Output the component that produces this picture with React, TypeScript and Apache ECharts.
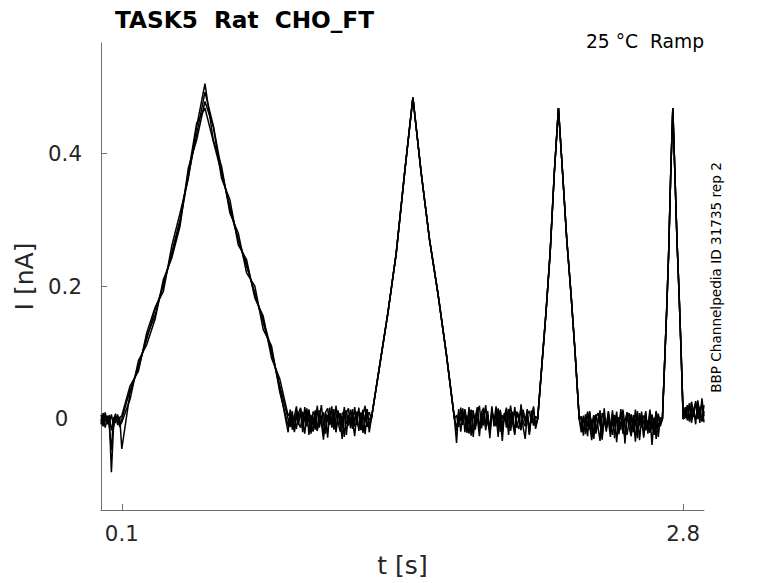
import React, { useEffect, useRef } from "react";
import * as echarts from "echarts";

// Axis ranges and ticks
const X_RANGE = [0, 2.9];
const Y_RANGE = [-0.137, 0.566];
const X_TICKS = [0.1, 2.8];
const Y_TICKS = [0, 0.2, 0.4];

// Baseline (holding) segments: start times [s], sample step [s], level offsets [pA]
const BASE_START = [0, 0.91, 1.71, 2.31, 2.81];
const BASE_DT = 0.01;
const BASE_OFFSET_PA = [-2, 0, 0, -4, 6];

// Baseline noise per trace [pA]
const BASE0_PA = [
  [8, -4, 10, -6, 2, -78, -12, 6, -3, 4],
  [-6, 11, -2, 7, -10, -45, 5, -4, 9, -8],
  [3, -9, 12, -3, 8, -15, 0, 10, -7, 5],
  [-2, 7, -11, 4, -5, 9, -8, 2, 6, -10],
];
const BASE1_PA = [
  [-5, 12, -18, 6, -9, 15, -3, -22, 8, 14, -11, 3, -16, 20, -7, 1, -25, 9, -4, 17, -13, 5, -19, 11, -2, -30, 7, 13, -8, 2, -15, 18, -6, -12, 10, -21, 4, 15, -9],
  [10, -16, 4, 19, -7, -13, 11, -2, 16, -24, 6, -9, 13, -18, 2, 21, -11, 7, -28, 12, -5, 15, -20, 3, 9, -14, 18, -6, -10, 14, -3, -26, 8, 12, -17, 5, 20, -12, 1],
  [-12, 7, -20, 14, -3, 9, -15, 18, -8, 2, -22, 11, 5, -17, 13, -6, -31, 10, 16, -9, 3, -14, 20, -4, -19, 8, 12, -24, 6, -2, 15, -11, -7, 17, -16, 9, -5, 13, -20],
  [14, -8, 2, -15, 9, 17, -20, 5, -11, 12, -4, -19, 8, 15, -13, 3, 10, -22, 6, -7, 19, -16, 1, 13, -10, 4, -27, 9, 16, -14, 7, -3, 11, -18, 2, 14, -23, 6, 10],
];
const BASE2_PA = [
  [-14, 9, -3, 16, -20, 5, -8, 12, -27, 3, 18, -10, -1, 14, -17, 7, -23, 11, -5, 19, -12, 2, -33, 8, -6, 15, -18, 4, 10, -9, -15, 22, -4, -11, 6, -24, 13, -2, -7],
  [6, -12, 17, -4, 10, -21, 3, 14, -9, -16, 8, 20, -14, 5, -7, 12, -29, 9, 1, -11, 16, -19, 6, -3, 13, -24, 10, -8, 18, -13, 2, -17, 11, -5, 15, -22, 7, -10, 4],
  [-36, 15, -19, 7, 2, -13, 18, -25, 10, -4, 13, -16, 6, -10, 21, -7, -18, 12, -2, 8, -27, 14, -9, 4, 17, -14, -5, 11, -21, 9, -1, 16, -12, -30, 7, 12, -6, 19, -15],
  [-18, 4, 11, -9, 15, -3, -22, 8, 13, -12, 1, -26, 10, 17, -8, 3, -15, 19, -11, 6, -4, 12, -20, 9, -13, 2, 20, -7, -24, 11, 5, -16, 14, -3, 8, -19, 1, 16, -11],
];
const BASE3_PA = [
  [-10, 6, -19, 12, -4, -28, 9, -13, 3, 17, -22, 5, -8, 14, -16, -3, 10, -31, 7, -12, 18, -6, -20, 2, 11, -15, 4, -25, 13, -9, 0, 16, -18, 8, -35, 5, -11, 12, -7],
  [8, -15, 3, -22, 14, -6, 10, -18, -2, 12, -27, 6, -11, 16, -4, -20, 9, 2, -14, 19, -9, -24, 5, 13, -17, 7, -30, 11, -5, 15, -21, 3, -8, 18, -12, 6, -26, 10, -3],
  [4, -21, 11, -8, 16, -13, -26, 7, 13, -5, -17, 20, -10, 2, -23, 12, -7, 15, -19, -2, 9, -33, 14, -6, 6, -16, 18, -11, -4, 10, -24, 8, -14, 13, 1, -20, 16, -9, 5],
  [-16, 9, -5, 15, -12, 3, -20, 11, -7, -29, 13, 4, -15, 8, -10, 17, -25, 6, -3, 12, -18, 1, 14, -9, -22, 10, -6, 16, -28, 5, 9, -13, 2, -17, 11, -8, 15, -23, 6],
];
const BASE4_PA = [
  [12, -8, 18, -3, 9, -14, 22, 2, -10, 6],
  [-4, 15, -10, 20, 4, -7, 13, -12, 25, -2],
  [10, -6, 16, -12, 7, 19, -5, 12, -9, 15],
  [5, 14, -9, 11, -3, 21, -6, 8, 17, -11],
];

// Ramp 1 (0.1 → 0.5 → 0.9 s), per trace [nA]
const RAMP1_T = [0.1, 0.14, 0.18, 0.22, 0.26, 0.3, 0.34, 0.38, 0.42, 0.46, 0.5, 0.54, 0.58, 0.62, 0.66, 0.7, 0.74, 0.78, 0.82, 0.86, 0.9];
const RAMP1_I = [
  [0.005, 0.05, 0.072, 0.13, 0.168, 0.192, 0.26, 0.31, 0.362, 0.44, 0.505, 0.42, 0.38, 0.31, 0.28, 0.22, 0.2, 0.135, 0.11, 0.04, -0.01],
  [-0.005, 0.03, 0.088, 0.112, 0.15, 0.21, 0.242, 0.29, 0.378, 0.42, 0.478, 0.44, 0.362, 0.33, 0.262, 0.24, 0.182, 0.155, 0.092, 0.06, 0.005],
  [-0.045, 0.04, 0.08, 0.12, 0.165, 0.2, 0.25, 0.3, 0.37, 0.445, 0.468, 0.418, 0.37, 0.32, 0.27, 0.23, 0.19, 0.145, 0.1, 0.05, 0.0],
  [0.0, 0.044, 0.076, 0.124, 0.156, 0.204, 0.246, 0.296, 0.366, 0.428, 0.492, 0.442, 0.374, 0.316, 0.27, 0.234, 0.186, 0.15, 0.104, 0.046, -0.02],
];
// Ramps 2–4 [nA]
const RAMP2_T = [1.3, 1.34, 1.38, 1.42, 1.46, 1.5, 1.54, 1.58, 1.62, 1.66, 1.7];
const RAMP2_I = [0, 0.08, 0.16, 0.25, 0.37, 0.484, 0.37, 0.27, 0.19, 0.1, 0];
const RAMP3_T = [2.1, 2.12, 2.14, 2.16, 2.18, 2.2, 2.22, 2.24, 2.26, 2.28, 2.3];
const RAMP3_I = [0, 0.08, 0.16, 0.25, 0.37, 0.468, 0.37, 0.27, 0.19, 0.1, 0];
const RAMP4_T = [2.7, 2.71, 2.72, 2.73, 2.74, 2.75, 2.76, 2.77, 2.78, 2.79, 2.8];
const RAMP4_I = [0, 0.08, 0.16, 0.25, 0.37, 0.468, 0.37, 0.27, 0.19, 0.1, 0];

const BASES = [BASE0_PA, BASE1_PA, BASE2_PA, BASE3_PA, BASE4_PA];

function buildTrace(k: number): [number, number][] {
  const pts: [number, number][] = [];
  const pushBase = (seg: number) => {
    BASES[seg][k].forEach((v, i) => {
      pts.push([+(BASE_START[seg] + i * BASE_DT).toFixed(3), (v + BASE_OFFSET_PA[seg]) / 1000]);
    });
  };
  pushBase(0);
  RAMP1_T.forEach((t, i) => pts.push([t, RAMP1_I[k][i]]));
  pushBase(1);
  RAMP2_T.forEach((t, i) => pts.push([t, RAMP2_I[i]]));
  pushBase(2);
  RAMP3_T.forEach((t, i) => pts.push([t, RAMP3_I[i]]));
  pushBase(3);
  RAMP4_T.forEach((t, i) => pts.push([t, RAMP4_I[i]]));
  pushBase(4);
  return pts;
}

const FONT = '"DejaVu Sans", "Noto Sans", sans-serif';
const AXIS_GRAY = "#6e6e6e";
const LABEL = "#262626";

export default function App() {
  const ref = useRef<HTMLDivElement>(null);
  useEffect(() => {
    if (!ref.current) return;
    const chart = echarts.init(ref.current, null, { renderer: "svg" });
    const series = BASE0_PA.map((_, k) => ({
      type: "line",
      data: buildTrace(k),
      showSymbol: false,
      symbol: "none",
      silent: true,
      lineStyle: { color: "#000", width: 1.5 },
    }));
    chart.setOption({
      animation: false,
      backgroundColor: "#fff",
      grid: { left: 101, right: 74, top: 43, bottom: 71, containLabel: false },
      xAxis: {
        type: "value",
        min: X_RANGE[0],
        max: X_RANGE[1],
        axisLine: { show: true, onZero: false, lineStyle: { color: AXIS_GRAY, width: 1 } },
        axisTick: { show: true, inside: true, length: 6, customValues: X_TICKS, lineStyle: { color: AXIS_GRAY } },
        axisLabel: {
          customValues: X_TICKS,
          formatter: (v: number) => v.toFixed(1),
          fontSize: 21.3,
          fontFamily: FONT,
          color: LABEL,
          margin: 13,
        },
        splitLine: { show: false },
        name: "t [s]",
        nameLocation: "middle",
        nameGap: 43,
        nameTextStyle: { fontSize: 25, fontFamily: FONT, color: LABEL },
      },
      yAxis: {
        type: "value",
        min: Y_RANGE[0],
        max: Y_RANGE[1],
        axisLine: { show: true, onZero: false, lineStyle: { color: AXIS_GRAY, width: 1 } },
        axisTick: { show: true, inside: true, length: 6, customValues: Y_TICKS, lineStyle: { color: AXIS_GRAY } },
        axisLabel: {
          customValues: Y_TICKS,
          formatter: (v: number) => (Math.abs(v) < 1e-9 ? "{z|0}" : v.toFixed(1)),
          fontSize: 21.3,
          fontFamily: FONT,
          color: LABEL,
          align: "center",
          margin: 36,
          rich: { z: { fontSize: 21.3, fontFamily: FONT, color: LABEL, padding: [0, 7, 0, 0] } },
        },
        splitLine: { show: false },
        name: "I [nA]",
        nameLocation: "middle",
        nameGap: 59,
        nameRotate: 90,
        nameTextStyle: { fontSize: 25, fontFamily: FONT, color: LABEL },
      },
      graphic: [
        {
          type: "text",
          x: 115,
          y: 19.2,
          style: {
            text: "TASK5  Rat  CHO_FT",
            fontSize: 23.2,
            fontWeight: "bold",
            fontFamily: FONT,
            fill: "#000",
            align: "left",
            verticalAlign: "middle",
          },
        },
        {
          type: "text",
          x: 704,
          y: 41.5,
          style: {
            text: "25 °C  Ramp",
            fontSize: 18.7,
            fontFamily: FONT,
            fill: "#000",
            align: "right",
            verticalAlign: "middle",
          },
        },
        {
          type: "text",
          x: 715.5,
          y: 277.5,
          rotation: Math.PI / 2,
          style: {
            text: "BBP Channelpedia ID 31735 rep 2",
            fontSize: 13.6,
            fontFamily: FONT,
            fill: "#000",
            align: "center",
            verticalAlign: "middle",
          },
        },
      ],
      series,
    });
    return () => chart.dispose();
  }, []);
  return <div ref={ref} style={{ position: "fixed", left: 0, top: 0, width: 778, height: 583 }} />;
}
